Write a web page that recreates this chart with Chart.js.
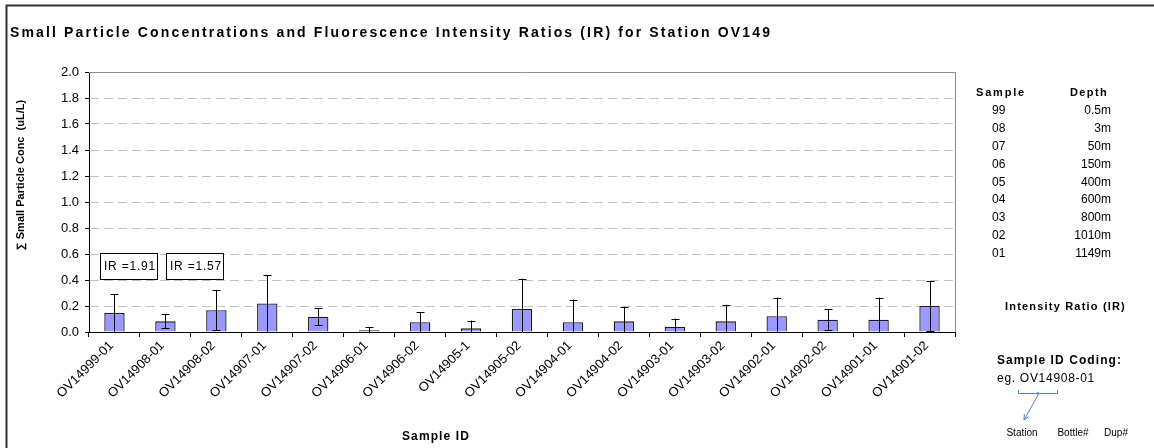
<!DOCTYPE html>
<html>
<head>
<meta charset="utf-8">
<script src="https://cdn.jsdelivr.net/npm/chart.js@4.4.1/dist/chart.umd.min.js"></script>
<style>
html,body{margin:0;padding:0;background:#fff;}
#wrap{width:1154px;height:448px;position:relative;}
</style>
</head>
<body>
<div id="wrap"><canvas id="c" width="1154" height="448"></canvas></div>
<script>
const categories = ["OV14999-01","OV14908-01","OV14908-02","OV14907-01","OV14907-02","OV14906-01","OV14906-02","OV14905-1","OV14905-02","OV14904-01","OV14904-02","OV14903-01","OV14903-02","OV14902-01","OV14902-02","OV14901-01","OV14901-02"];
const concValues = [0.146,0.082,0.167,0.219,0.118,0.013,0.075,0.028,0.177,0.075,0.082,0.041,0.082,0.121,0.095,0.095,0.200];
const concErrors = [0.145,0.055,0.155,0.218,0.066,0.025,0.077,0.060,0.233,0.175,0.111,0.062,0.128,0.144,0.082,0.170,0.190];
const yTicks = [0,0.2,0.4,0.6,0.8,1.0,1.2,1.4,1.6,1.8,2.0];
const irLabels = ["IR =1.91","IR =1.57"];
const depthSamples = ["99","08","07","06","05","04","03","02","01"];
const depthValues = ["0.5m","3m","50m","150m","400m","600m","800m","1010m","1149m"];

const FONT = "'Liberation Sans', Arial, sans-serif";

function spaced(ctx, text, x, y, targetW){
  const w = ctx.measureText(text).width;
  if('letterSpacing' in ctx){
    ctx.letterSpacing = Math.max(0,(targetW - w)/text.length).toFixed(2)+'px';
  }
  ctx.fillText(text,x,y);
  if('letterSpacing' in ctx) ctx.letterSpacing='0px';
}

const decor = {
  id:'decor',
  beforeDraw(chart){
    const ctx = chart.ctx;
    ctx.save();
    ctx.fillStyle='#fff';
    ctx.fillRect(0,0,chart.width,chart.height);
    ctx.restore();
  },
  afterDatasetsDraw(chart){
    const ctx = chart.ctx;
    const x = chart.scales.x, y = chart.scales.y;
    const area = chart.chartArea;
    ctx.save();
    ctx.strokeStyle='#000';
    ctx.lineWidth=1;
    concValues.forEach((v,i)=>{
      const cx = Math.round(x.getPixelForValue(i))+0.5;
      const hi = y.getPixelForValue(v+concErrors[i]);
      const loV = Math.max(0, v-concErrors[i]);
      const lo = y.getPixelForValue(loV);
      ctx.beginPath();
      ctx.moveTo(cx,hi); ctx.lineTo(cx,lo);
      ctx.moveTo(cx-4,Math.round(hi)+0.5); ctx.lineTo(cx+4,Math.round(hi)+0.5);
      if(loV>0.005){ctx.moveTo(cx-4,Math.round(lo)+0.5); ctx.lineTo(cx+4,Math.round(lo)+0.5);}
      ctx.stroke();
    });
    ctx.strokeStyle='#8c8c8c';
    ctx.beginPath();
    ctx.moveTo(area.left, Math.round(area.top)+0.5);
    ctx.lineTo(Math.round(area.right)+0.5, Math.round(area.top)+0.5);
    ctx.lineTo(Math.round(area.right)+0.5, area.bottom);
    ctx.stroke();
    ctx.restore();
  },
  afterDraw(chart){
    const ctx = chart.ctx;
    ctx.save();
    ctx.strokeStyle='#333';
    ctx.lineWidth=2;
    ctx.beginPath();
    ctx.moveTo(6.5,450); ctx.lineTo(6.5,5.5); ctx.lineTo(1160,5.5);
    ctx.stroke();

    ctx.fillStyle='#000';
    ctx.textBaseline='middle';
    ctx.textAlign='left';
    ctx.font='bold 14px '+FONT;
    spaced(ctx,'Small Particle Concentrations and Fluorescence Intensity Ratios (IR) for Station OV149',10,33,762);

    ctx.save();
    ctx.translate(21,175);
    ctx.rotate(-Math.PI/2);
    ctx.textAlign='center';
    ctx.font='bold 11px '+FONT;
    ctx.fillText('\u2211 Small Particle Conc  (uL/L)',0,0);
    ctx.restore();

    ctx.font='bold 12px '+FONT;
    ctx.textAlign='left';
    spaced(ctx,'Sample ID',402,437,68);

    ctx.font='12px '+FONT;
    ctx.lineWidth=1;
    ctx.strokeStyle='#000';
    const boxes=[[100,157],[166,223]];
    boxes.forEach((b,i)=>{
      ctx.fillStyle='#fff';
      ctx.fillRect(b[0]+0.5,253.5,b[1]-b[0],26);
      ctx.strokeRect(b[0]+0.5,253.5,b[1]-b[0],26);
      ctx.fillStyle='#000';
      ctx.textAlign='left';
      spaced(ctx,irLabels[i],b[0]+4,266.5,52);
    });

    ctx.font='bold 11px '+FONT;
    ctx.textAlign='left';
    spaced(ctx,'Sample',976,93,50);
    spaced(ctx,'Depth',1070,93,38);
    ctx.font='12px '+FONT;
    depthSamples.forEach((s,i)=>{
      const yy = 111 + i*17.8;
      ctx.textAlign='left';
      ctx.fillText(s,992,yy);
      ctx.textAlign='right';
      ctx.fillText(depthValues[i],1111,yy);
    });

    ctx.font='bold 11px '+FONT;
    ctx.textAlign='left';
    spaced(ctx,'Intensity Ratio (IR)',1005,307,121);

    ctx.font='bold 12px '+FONT;
    spaced(ctx,'Sample ID Coding:',997,361,125);
    ctx.font='12px '+FONT;
    spaced(ctx,'eg. OV14908-01',997,379,98);

    ctx.strokeStyle='#4f81bd';
    ctx.fillStyle='#4f81bd';
    ctx.lineWidth=1;
    ctx.beginPath();
    ctx.moveTo(1018.5,390); ctx.lineTo(1018.5,393.5); ctx.lineTo(1057.5,393.5); ctx.lineTo(1057.5,390);
    ctx.stroke();
    ctx.beginPath(); ctx.arc(1038,393.5,1.3,0,Math.PI*2); ctx.fill();
    const ax0=1038, ay0=395, ax1=1024, ay1=420;
    ctx.beginPath(); ctx.moveTo(ax0,ay0); ctx.lineTo(ax1,ay1); ctx.stroke();
    const ang=Math.atan2(ay1-ay0,ax1-ax0);
    ctx.beginPath();
    ctx.moveTo(ax1,ay1);
    ctx.lineTo(ax1-6*Math.cos(ang-0.45), ay1-6*Math.sin(ang-0.45));
    ctx.moveTo(ax1,ay1);
    ctx.lineTo(ax1-6*Math.cos(ang+0.45), ay1-6*Math.sin(ang+0.45));
    ctx.stroke();

    ctx.fillStyle='#000';
    ctx.font='10px '+FONT;
    ctx.textAlign='center';
    ctx.fillText('Station',1022,433);
    ctx.fillText('Bottle#',1073,433);
    ctx.fillText('Dup#',1116,433);
    ctx.restore();
  }
};

new Chart(document.getElementById('c'),{
  type:'bar',
  data:{
    labels:categories,
    datasets:[{
      data:concValues,
      backgroundColor:'#9999ff',
      borderColor:'#1a1a1a',
      borderWidth:1.3,
      borderSkipped:'bottom',
      barPercentage:0.4,
      categoryPercentage:1.0
    }]
  },
  options:{
    responsive:false,
    animation:false,
    events:[],
    layout:{padding:{left:0,right:199,top:72,bottom:0}},
    plugins:{legend:{display:false},tooltip:{enabled:false},title:{display:false}},
    scales:{
      x:{
        offset:true,
        grid:{offset:true,drawOnChartArea:false,tickLength:5,tickColor:'#000'},
        border:{color:'#000',width:1},
        ticks:{minRotation:45,maxRotation:45,autoSkip:false,color:'#000',font:{family:FONT,size:13},padding:1,labelOffset:-3},
        afterFit(s){s.height=116;}
      },
      y:{
        min:0,max:2,
        afterBuildTicks(s){s.ticks=yTicks.map(v=>({value:v}));},
        grid:{
          color:(c)=> (c.tick && (c.tick.value===0 || c.tick.value===2)) ? 'rgba(0,0,0,0)' : '#c0c0c0',
          tickColor:'#000',
          tickLength:4,
          lineWidth:1
        },
        border:{color:'#000',width:1,dash:[9,5]},
        ticks:{color:'#000',font:{family:FONT,size:13},padding:6,callback:(v)=>Number(v).toFixed(1)},
        afterFit(s){s.width=89;}
      }
    }
  },
  plugins:[decor]
});
</script>
</body>
</html>
